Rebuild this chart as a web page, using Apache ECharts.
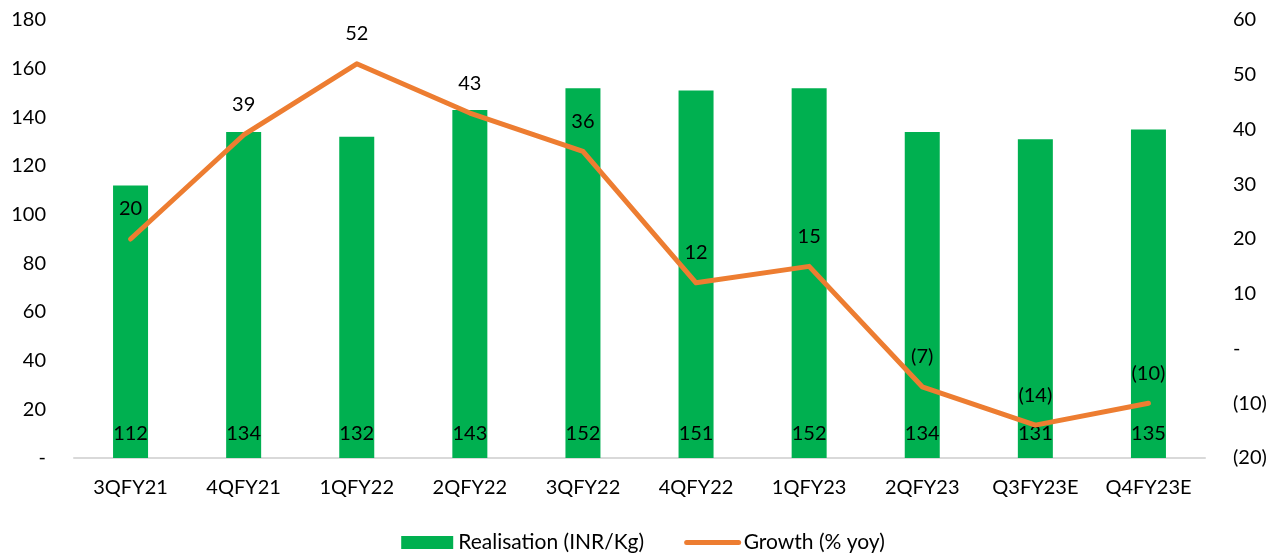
<!DOCTYPE html>
<html>
<head>
<meta charset="utf-8">
<script src="https://cdn.jsdelivr.net/npm/echarts@6/dist/echarts.min.js"></script>
<style>
  html, body { margin: 0; padding: 0; background: #fff; }
  #chart { width: 1286px; height: 556px; }
</style>
</head>
<body>
<div id="chart"></div>
<script>
// Quarterly realisation and year-on-year growth
const categories = ['3QFY21', '4QFY21', '1QFY22', '2QFY22', '3QFY22', '4QFY22', '1QFY23', '2QFY23', 'Q3FY23E', 'Q4FY23E'];
const realisation = [112, 134, 132, 143, 152, 151, 152, 134, 131, 135];
const growth = [20, 39, 52, 43, 36, 12, 15, -7, -14, -10];

const FONT = 'Lato, "Open Sans", sans-serif';
const GREEN = '#00B050';
const ORANGE = '#ED7D31';

// Accounting-style number: negatives in brackets, zero as a dash
function acct(v) {
  if (v === 0) return '-';
  if (v < 0) return '(' + Math.abs(v) + ')';
  return String(v);
}

const chart = echarts.init(document.getElementById('chart'), null, { renderer: 'canvas' });
chart.setOption({
  backgroundColor: '#fff',
  animation: false,
  textStyle: { fontFamily: FONT },
  grid: { left: 74, right: 81, top: 20, bottom: 98, containLabel: false },
  legend: {
    top: 527,
    left: 'center',
    itemWidth: 52,
    itemHeight: 13,
    itemGap: 40,
    textStyle: { fontFamily: FONT, fontSize: 21, color: '#000' },
    data: [
      { name: 'Realisation (INR/Kg)', icon: 'rect' },
      { name: 'Growth (% yoy)', itemStyle: { opacity: 0 }, lineStyle: { width: 5, color: ORANGE } }
    ]
  },
  xAxis: {
    type: 'category',
    data: categories,
    axisLine: { lineStyle: { color: '#d9d9d9', width: 2 } },
    axisTick: { show: false },
    axisLabel: { color: '#000', fontSize: 20, fontFamily: FONT, margin: 20 }
  },
  yAxis: [
    {
      type: 'value',
      min: 0, max: 180, interval: 20,
      splitLine: { show: false },
      axisLine: { show: false },
      axisTick: { show: false },
      axisLabel: {
        color: '#000', fontSize: 20, fontFamily: FONT,
        margin: 28,
        formatter: acct
      }
    },
    {
      type: 'value',
      min: -20, max: 60, interval: 10,
      splitLine: { show: false },
      axisLine: { show: false },
      axisTick: { show: false },
      axisLabel: {
        color: '#000', fontSize: 20, fontFamily: FONT,
        margin: 28,
        formatter: acct
      }
    }
  ],
  series: [
    {
      name: 'Realisation (INR/Kg)',
      type: 'bar',
      yAxisIndex: 0,
      data: realisation,
      barWidth: 35,
      itemStyle: { color: GREEN },
      label: {
        show: true,
        position: 'insideBottom',
        distance: 14,
        color: '#000',
        fontSize: 20,
        fontFamily: FONT,
        formatter: p => acct(p.value)
      }
    },
    {
      name: 'Growth (% yoy)',
      type: 'line',
      yAxisIndex: 1,
      data: growth,
      symbol: 'circle',
      symbolSize: 0,
      showSymbol: true,
      lineStyle: { color: ORANGE, width: 5, cap: 'round', join: 'round' },
      itemStyle: { color: ORANGE },
      label: {
        show: true,
        position: 'top',
        distance: 20,
        color: '#000',
        fontSize: 20,
        fontFamily: FONT,
        formatter: p => acct(p.value)
      },
      z: 3
    }
  ]
});
</script>
</body>
</html>
